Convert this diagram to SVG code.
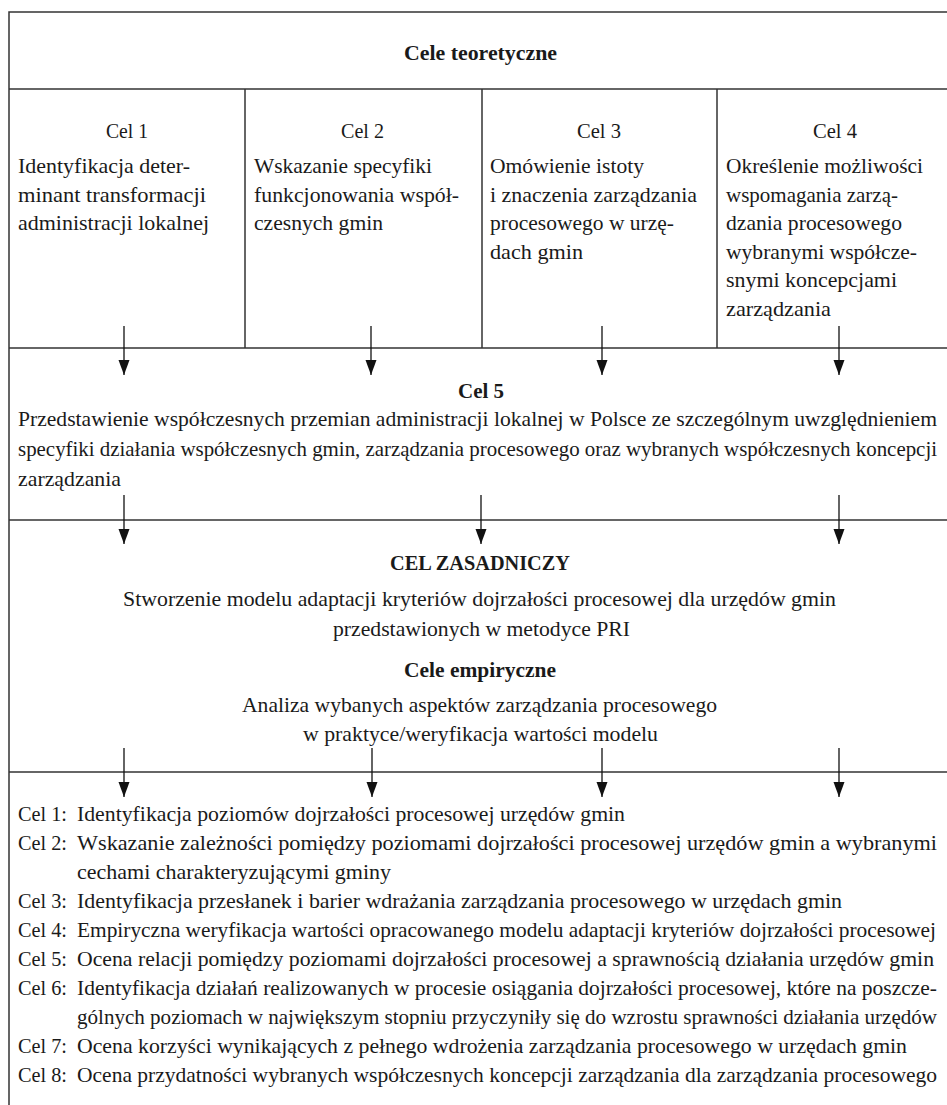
<svg xmlns="http://www.w3.org/2000/svg" width="947" height="1105" viewBox="0 0 947 1105">
<style>
text{font-family:"Liberation Serif","Times New Roman",serif;font-size:22px;fill:#1a1a1a}
.b{font-weight:bold}
.s{font-size:21px}
.ln{stroke:#333;stroke-width:1.5;fill:none}
.ar{stroke:#111;stroke-width:1.3;fill:none}
</style>
<defs>
<marker id="ah" markerUnits="userSpaceOnUse" markerWidth="16" markerHeight="12" refX="15" refY="5.5" orient="auto">
<path d="M0,0 L15,5.5 L0,11 z" fill="#111"/>
</marker>
</defs>
<rect width="947" height="1105" fill="#fff"/>
<g id="frame">
<rect class="ln" x="9" y="12" width="944" height="1100"/>
<line class="ln" x1="9" y1="89" x2="953" y2="89"/>
<line class="ln" x1="245" y1="89" x2="245" y2="348"/>
<line class="ln" x1="482" y1="89" x2="482" y2="348"/>
<line class="ln" x1="717" y1="89" x2="717" y2="348"/>
<line class="ln" x1="9" y1="348" x2="953" y2="348"/>
<line class="ln" x1="9" y1="520" x2="953" y2="520"/>
<line class="ln" x1="9" y1="772" x2="953" y2="772"/>
</g>
<g id="header">
<text class="b" x="404" y="60" textLength="153" lengthAdjust="spacingAndGlyphs">Cele teoretyczne</text>
</g>
<g id="cel1">
<text x="106" y="138" textLength="42" lengthAdjust="spacingAndGlyphs">Cel 1</text>
<text x="18" y="173" textLength="172" lengthAdjust="spacingAndGlyphs">Identyfikacja deter-</text>
<text x="18" y="201.5" textLength="188" lengthAdjust="spacingAndGlyphs">minant transformacji</text>
<text x="18" y="230" textLength="191" lengthAdjust="spacingAndGlyphs">administracji lokalnej</text>
</g>
<g id="cel2">
<text x="341" y="138" textLength="43" lengthAdjust="spacingAndGlyphs">Cel 2</text>
<text x="254" y="173" textLength="178" lengthAdjust="spacingAndGlyphs">Wskazanie specyfiki</text>
<text x="254" y="201.5" textLength="205" lengthAdjust="spacingAndGlyphs">funkcjonowania współ-</text>
<text x="254" y="230" textLength="129" lengthAdjust="spacingAndGlyphs">czesnych gmin</text>
</g>
<g id="cel3">
<text x="577" y="138" textLength="44" lengthAdjust="spacingAndGlyphs">Cel 3</text>
<text x="490" y="173" textLength="154" lengthAdjust="spacingAndGlyphs">Omówienie istoty</text>
<text x="490" y="201.5" textLength="207" lengthAdjust="spacingAndGlyphs">i znaczenia zarządzania</text>
<text x="490" y="230" textLength="184" lengthAdjust="spacingAndGlyphs">procesowego w urzę-</text>
<text x="490" y="258.5" textLength="93" lengthAdjust="spacingAndGlyphs">dach gmin</text>
</g>
<g id="cel4">
<text x="813" y="138" textLength="44" lengthAdjust="spacingAndGlyphs">Cel 4</text>
<text x="726" y="173" textLength="197" lengthAdjust="spacingAndGlyphs">Określenie możliwości</text>
<text x="726" y="201.5" textLength="172" lengthAdjust="spacingAndGlyphs">wspomagania zarzą-</text>
<text x="726" y="230" textLength="176" lengthAdjust="spacingAndGlyphs">dzania procesowego</text>
<text x="726" y="258.5" textLength="191" lengthAdjust="spacingAndGlyphs">wybranymi współcze-</text>
<text x="726" y="287" textLength="171" lengthAdjust="spacingAndGlyphs">snymi koncepcjami</text>
<text x="726" y="315.5" textLength="105" lengthAdjust="spacingAndGlyphs">zarządzania</text>
</g>
<g id="cel5">
<text class="b" x="458" y="398" textLength="46" lengthAdjust="spacingAndGlyphs">Cel 5</text>
<text class="s" x="18" y="426" textLength="919" lengthAdjust="spacingAndGlyphs">Przedstawienie współczesnych przemian administracji lokalnej w Polsce ze szczególnym uwzględnieniem</text>
<text class="s" x="18" y="456" textLength="919" lengthAdjust="spacingAndGlyphs">specyfiki działania współczesnych gmin, zarządzania procesowego oraz wybranych współczesnych koncepcji</text>
<text x="18" y="486" textLength="103" lengthAdjust="spacingAndGlyphs">zarządzania</text>
</g>
<g id="cel-zasadniczy">
<text class="b" x="390" y="570" textLength="180" lengthAdjust="spacingAndGlyphs">CEL ZASADNICZY</text>
<text x="123" y="606" textLength="713" lengthAdjust="spacingAndGlyphs">Stworzenie modelu adaptacji kryteriów dojrzałości procesowej dla urzędów gmin</text>
<text x="333" y="636" textLength="297" lengthAdjust="spacingAndGlyphs">przedstawionych w metodyce PRI</text>
</g>
<g id="cele-empiryczne">
<text class="b" x="404" y="677" textLength="152" lengthAdjust="spacingAndGlyphs">Cele empiryczne</text>
<text x="242" y="712" textLength="475" lengthAdjust="spacingAndGlyphs">Analiza wybanych aspektów zarządzania procesowego</text>
<text x="303" y="741" textLength="355" lengthAdjust="spacingAndGlyphs">w praktyce/weryfikacja wartości modelu</text>
</g>
<g id="lista-celow">
<text x="18" y="821" textLength="49" lengthAdjust="spacingAndGlyphs">Cel 1:</text>
<text x="77" y="821" textLength="548" lengthAdjust="spacingAndGlyphs">Identyfikacja poziomów dojrzałości procesowej urzędów gmin</text>
<text x="18" y="850" textLength="49" lengthAdjust="spacingAndGlyphs">Cel 2:</text>
<text class="s" x="77" y="850" textLength="860" lengthAdjust="spacingAndGlyphs">Wskazanie zależności pomiędzy poziomami dojrzałości procesowej urzędów gmin a wybranymi</text>
<text x="77" y="879" textLength="314" lengthAdjust="spacingAndGlyphs">cechami charakteryzującymi gminy</text>
<text x="18" y="908" textLength="49" lengthAdjust="spacingAndGlyphs">Cel 3:</text>
<text x="77" y="908" textLength="765" lengthAdjust="spacingAndGlyphs">Identyfikacja przesłanek i barier wdrażania zarządzania procesowego w urzędach gmin</text>
<text x="18" y="937" textLength="49" lengthAdjust="spacingAndGlyphs">Cel 4:</text>
<text class="s" x="77" y="937" textLength="859" lengthAdjust="spacingAndGlyphs">Empiryczna weryfikacja wartości opracowanego modelu adaptacji kryteriów dojrzałości procesowej</text>
<text x="18" y="966" textLength="49" lengthAdjust="spacingAndGlyphs">Cel 5:</text>
<text class="s" x="77" y="966" textLength="857" lengthAdjust="spacingAndGlyphs">Ocena relacji pomiędzy poziomami dojrzałości procesowej a sprawnością działania urzędów gmin</text>
<text x="18" y="995" textLength="49" lengthAdjust="spacingAndGlyphs">Cel 6:</text>
<text class="s" x="77" y="995" textLength="860" lengthAdjust="spacingAndGlyphs">Identyfikacja działań realizowanych w procesie osiągania dojrzałości procesowej, które na poszcze-</text>
<text class="s" x="77" y="1024" textLength="860" lengthAdjust="spacingAndGlyphs">gólnych poziomach w największym stopniu przyczyniły się do wzrostu sprawności działania urzędów</text>
<text x="18" y="1053" textLength="49" lengthAdjust="spacingAndGlyphs">Cel 7:</text>
<text x="77" y="1053" textLength="830" lengthAdjust="spacingAndGlyphs">Ocena korzyści wynikających z pełnego wdrożenia zarządzania procesowego w urzędach gmin</text>
<text x="18" y="1082" textLength="49" lengthAdjust="spacingAndGlyphs">Cel 8:</text>
<text class="s" x="77" y="1082" textLength="860" lengthAdjust="spacingAndGlyphs">Ocena przydatności wybranych współczesnych koncepcji zarządzania dla zarządzania procesowego</text>
</g>
<g id="connectors">
<line class="ar" x1="124" y1="326" x2="124" y2="375" marker-end="url(#ah)"/>
<line class="ar" x1="371" y1="326" x2="371" y2="375" marker-end="url(#ah)"/>
<line class="ar" x1="602" y1="326" x2="602" y2="375" marker-end="url(#ah)"/>
<line class="ar" x1="839" y1="326" x2="839" y2="375" marker-end="url(#ah)"/>
<line class="ar" x1="124" y1="495" x2="124" y2="544" marker-end="url(#ah)"/>
<line class="ar" x1="481" y1="495" x2="481" y2="544" marker-end="url(#ah)"/>
<line class="ar" x1="839" y1="495" x2="839" y2="544" marker-end="url(#ah)"/>
<line class="ar" x1="124" y1="748" x2="124" y2="797" marker-end="url(#ah)"/>
<line class="ar" x1="372" y1="748" x2="372" y2="797" marker-end="url(#ah)"/>
<line class="ar" x1="602" y1="748" x2="602" y2="797" marker-end="url(#ah)"/>
<line class="ar" x1="839" y1="748" x2="839" y2="797" marker-end="url(#ah)"/>
</g>
</svg>
